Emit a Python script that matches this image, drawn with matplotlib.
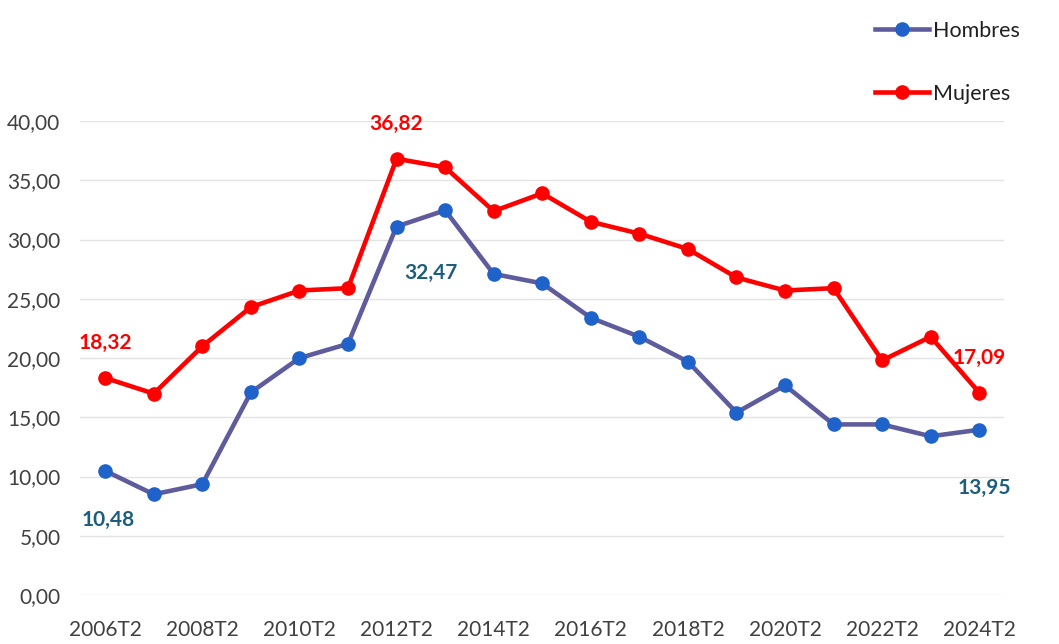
import matplotlib.pyplot as plt

plt.rcParams['font.family'] = ['Lato', 'DejaVu Sans']

# Data
periods = ['%dT2' % y for y in range(2006, 2025)]
hombres = [10.48, 8.5, 9.36, 17.1, 20.0, 21.2, 31.1, 32.47, 27.1, 26.3,
           23.4, 21.8, 19.7, 15.4, 17.7, 14.4, 14.4, 13.4, 13.95]
mujeres = [18.32, 17.0, 21.0, 24.3, 25.7, 25.9, 36.82, 36.1, 32.4, 33.9,
           31.5, 30.5, 29.2, 26.8, 25.7, 25.9, 19.8, 21.8, 17.09]
yticks = [0, 5, 10, 15, 20, 25, 30, 35, 40]

c_h_line = '#5f5c9e'
c_h_mark = '#1f62c9'
c_h_text = '#1d5e7c'
c_m = '#ff0000'

def fmt(v):
    return ('%.2f' % v).replace('.', ',')

fig = plt.figure(figsize=(10.59, 6.44), dpi=100)
ax = fig.add_axes([0.0755, 0.076, 0.873, 0.736])

x = list(range(len(periods)))
ax.plot(x, hombres, color=c_h_line, lw=3.3, marker='o', markersize=9.5,
        markerfacecolor=c_h_mark, markeredgecolor=c_h_mark, label='Hombres', zorder=3)
ax.plot(x, mujeres, color=c_m, lw=3.3, marker='o', markersize=9.5,
        markerfacecolor=c_m, markeredgecolor=c_m, label='Mujeres', zorder=3)

ax.set_xlim(-0.52, len(periods) - 0.48)
ax.set_ylim(0, 40)
ax.set_yticks(yticks)
ax.set_yticklabels([fmt(v) for v in yticks])
ax.set_xticks(x[::2])
ax.set_xticklabels(periods[::2])
ax.tick_params(length=0, labelsize=15, labelcolor='#404040')
ax.tick_params(axis='y', pad=14)
ax.tick_params(axis='x', pad=18)
ax.grid(axis='y', color='#e3e3e3', lw=1)
ax.set_axisbelow(True)
for s in ax.spines.values():
    s.set_visible(False)

# value labels
lab = dict(fontsize=15, fontweight='bold', ha='center', va='center',
           textcoords='offset points')
ax.annotate(fmt(mujeres[0]), (0, mujeres[0]), xytext=(0, 25), color=c_m, **lab)
ax.annotate(fmt(hombres[0]), (0, hombres[0]), xytext=(2, -35), color=c_h_text, **lab)
ax.annotate(fmt(mujeres[6]), (6, mujeres[6]), xytext=(0, 25), color=c_m, **lab)
ax.annotate(fmt(hombres[7]), (7, hombres[7]), xytext=(-10, -45), color=c_h_text, **lab)
ax.annotate(fmt(mujeres[18]), (18, mujeres[18]), xytext=(0, 25), color=c_m, **lab)
ax.annotate(fmt(hombres[18]), (18, hombres[18]), xytext=(4, -42), color=c_h_text, **lab)

fig.legend(loc='upper left', bbox_to_anchor=(0.808, 0.998), frameon=False,
           fontsize=15.5, labelspacing=2.0, handlelength=2.5, handletextpad=0.2,
           labelcolor='#202020')

fig.savefig('out.png', dpi=100)
